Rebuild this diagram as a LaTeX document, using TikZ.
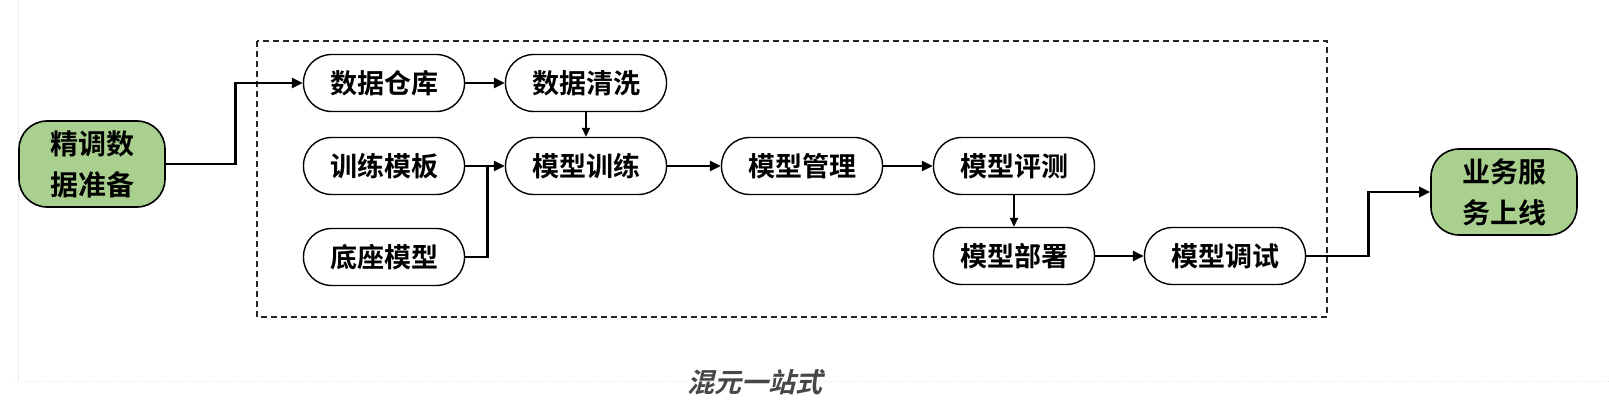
\documentclass[tikz,border=0pt]{standalone}
\usepackage{fontspec}
\setmainfont{Noto Sans CJK SC Bold}
\newfontfamily\capfont{Noto Sans CJK SC Bold}[FakeSlant=0.25]
\usetikzlibrary{arrows.meta,calc}
\definecolor{leaf}{HTML}{A9D08E}
\begin{document}
\begin{tikzpicture}[x=1pt,y=-1pt,
  pill/.style={draw=black,line width=1.4pt,rounded corners=28pt,minimum width=161pt,minimum height=57pt,inner sep=0pt,font=\fontsize{27}{30}\selectfont},
  endbox/.style={draw=black,line width=1.6pt,fill=leaf,rounded corners=28pt,minimum width=146pt,minimum height=86pt,inner sep=0pt,align=center,font=\fontsize{28}{41}\selectfont},
  arr/.style={line width=2.8pt,-{Triangle[length=11pt,width=10pt]}},
  thinarr/.style={line width=1.8pt,-{Triangle[length=9pt,width=8pt]}},
  plain/.style={line width=2.8pt}
]
\useasboundingbox (0,0) rectangle (1609,414);
% faint page guides
\draw[black!8,line width=0.8pt] (18,0) -- (18,381);
\draw[black!10,line width=1pt,dotted] (15,381) -- (1609,381);
% dashed frame
\draw[black!85,line width=1.3pt,dash pattern=on 6pt off 4pt] (257,41) rectangle (1327,317);

\node[endbox] (prep) at (92,164) {精调数\\据准备};
\node[pill] (wh) at (384,83) {数据仓库};
\node[pill] (tpl) at (384,166) {训练模板};
\node[pill] (base) at (384,257) {底座模型};
\node[pill] (clean) at (586,83) {数据清洗};
\node[pill] (train) at (586,166) {模型训练};
\node[pill] (mgmt) at (802,166) {模型管理};
\node[pill] (eval) at (1014,166) {模型评测};
\node[pill] (deploy) at (1014,256) {模型部署};
\node[pill] (debug) at (1225,256) {模型调试};
\node[endbox] (svc) at (1504,192) {业务服\\务上线};

\draw[arr] (prep.east) -- ++(70,0) |- (wh.west);
\draw[arr] (wh.east) -- (clean.west);
\draw[thinarr] (clean.south) -- (train.north);
\draw[plain] (tpl.east) -- ++(22,0) coordinate (j);
\draw[arr] (base.east) -| (j) -- (train.west);
\draw[arr] (train.east) -- (mgmt.west);
\draw[arr] (mgmt.east) -- (eval.west);
\draw[thinarr] (eval.south) -- (deploy.north);
\draw[arr] (deploy.east) -- (debug.west);
\draw[arr] (debug.east) -- ++(62,0) |- (svc.west);

\node[text=black!72,font=\capfont\fontsize{27}{30}\selectfont] (cap) at (755,382) {混元一站式};
\end{tikzpicture}
\end{document}
